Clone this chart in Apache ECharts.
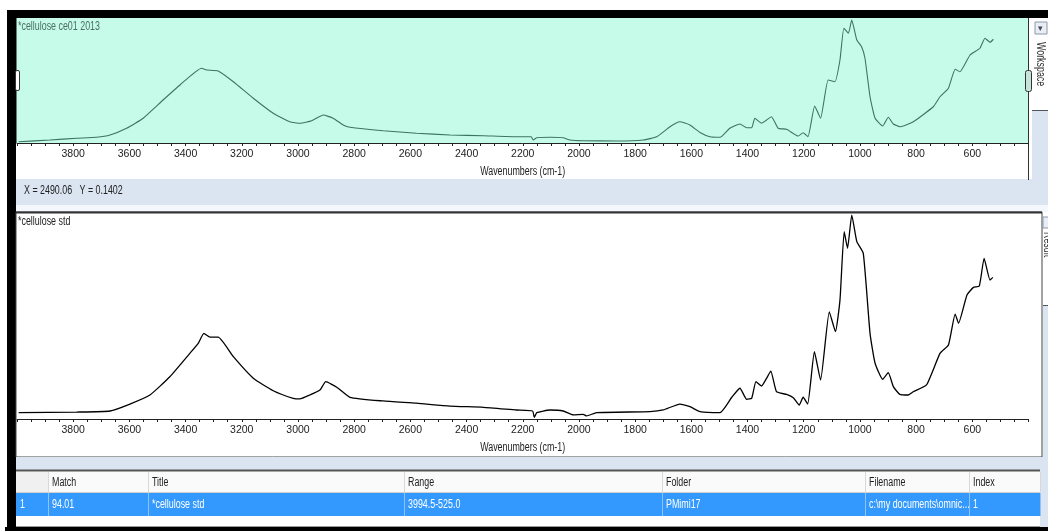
<!DOCTYPE html>
<html>
<head>
<meta charset="utf-8">
<script src="https://cdn.jsdelivr.net/npm/echarts@6/dist/echarts.min.js"></script>
<style>
  html, body { margin: 0; padding: 0; background: #fff; overflow: hidden; }
  #chart { width: 1048px; height: 531px; }
</style>
</head>
<body>
<div id="chart"></div>
<script>
// Spectral search window: sample spectrum on top, best library hit below, hit list at the bottom.
const FONT = "'Liberation Sans',Arial,sans-serif";
const NARROW = 0.74; // horizontal squeeze that gives the condensed UI lettering

const sampleTitle = '*cellulose ce01 2013';
const libraryTitle = '*cellulose std';
const cursorReadout = 'X = 2490.06   Y = 0.1402';
const axisTitle = 'Wavenumbers (cm-1)';

// Sample spectrum (normalised absorbance)
const sampleWavenumbers = [3994, 3883, 3788, 3717, 3669, 3610, 3551, 3480, 3420, 3343, 3325, 3284, 3230, 3159, 3088, 3029, 2993, 2951, 2910, 2875, 2839, 2815, 2697, 2578, 2459, 2340, 2222, 2170, 2163, 2150, 2103, 2056, 2032, 1985, 1866, 1771, 1723, 1676, 1641, 1605, 1569, 1534, 1498, 1463, 1427, 1403, 1385, 1374, 1350, 1332, 1315, 1291, 1261, 1220, 1202, 1185, 1161, 1140, 1113, 1089, 1071, 1057, 1041, 1029, 1011, 994, 982, 964, 946, 919, 899, 881, 858, 810, 739, 715, 685, 661, 644, 608, 573, 555, 537, 525];
const sampleAbsorbance = [0.010, 0.024, 0.038, 0.046, 0.064, 0.118, 0.198, 0.344, 0.464, 0.598, 0.584, 0.576, 0.490, 0.358, 0.238, 0.170, 0.158, 0.178, 0.224, 0.198, 0.144, 0.126, 0.098, 0.078, 0.064, 0.058, 0.050, 0.050, 0.024, 0.042, 0.046, 0.042, 0.024, 0.018, 0.016, 0.024, 0.050, 0.130, 0.170, 0.144, 0.084, 0.050, 0.046, 0.118, 0.152, 0.122, 0.122, 0.198, 0.158, 0.184, 0.210, 0.118, 0.110, 0.056, 0.082, 0.050, 0.296, 0.198, 0.504, 0.490, 0.664, 0.918, 0.878, 0.984, 0.824, 0.770, 0.678, 0.370, 0.198, 0.136, 0.206, 0.152, 0.130, 0.170, 0.290, 0.370, 0.438, 0.590, 0.570, 0.704, 0.758, 0.838, 0.806, 0.830];

// Library reference spectrum (normalised absorbance)
const libraryWavenumbers = [3994, 3788, 3669, 3598, 3527, 3456, 3385, 3355, 3335, 3313, 3284, 3230, 3159, 3088, 3017, 2993, 2958, 2922, 2901, 2862, 2815, 2697, 2578, 2459, 2340, 2222, 2165, 2159, 2150, 2103, 2056, 2020, 1985, 1973, 1937, 1747, 1700, 1641, 1605, 1569, 1498, 1456, 1427, 1403, 1385, 1370, 1350, 1332, 1317, 1297, 1261, 1237, 1216, 1202, 1186, 1162, 1140, 1109, 1087, 1071, 1056, 1044, 1029, 1011, 988, 964, 946, 919, 899, 881, 858, 828, 810, 763, 715, 685, 661, 649, 619, 596, 575, 558, 537, 527];
const libraryAbsorbance = [0.031, 0.034, 0.039, 0.073, 0.117, 0.206, 0.320, 0.369, 0.418, 0.399, 0.399, 0.304, 0.199, 0.138, 0.101, 0.098, 0.117, 0.141, 0.182, 0.155, 0.106, 0.088, 0.077, 0.063, 0.057, 0.044, 0.039, 0.008, 0.031, 0.044, 0.039, 0.020, 0.023, 0.015, 0.031, 0.036, 0.044, 0.073, 0.060, 0.036, 0.031, 0.106, 0.150, 0.096, 0.102, 0.182, 0.161, 0.199, 0.234, 0.133, 0.120, 0.104, 0.068, 0.106, 0.073, 0.328, 0.190, 0.523, 0.426, 0.580, 0.914, 0.833, 0.995, 0.865, 0.808, 0.418, 0.272, 0.194, 0.226, 0.158, 0.120, 0.117, 0.133, 0.166, 0.320, 0.361, 0.512, 0.467, 0.605, 0.642, 0.649, 0.784, 0.678, 0.691];

// Hit list
const hitHeaders = ['', 'Match', 'Title', 'Range', 'Folder', 'Filename', 'Index'];
const hitRow = ['1', '94.01', '*cellulose std', '3994.5-525.0', 'PMimi17', 'c:\\my documents\\omnic...', '1'];

const pairs = (xs, ys) => xs.map((x, i) => [x, ys[i]]);

function freqAxis(gridIndex) {
  return {
    type: 'value', gridIndex, min: 400, max: 4000, interval: 200, inverse: true,
    axisLine: { show: true, onZero: false, lineStyle: { color: '#222', width: 1 } },
    axisTick: { show: true, inside: false, length: 3, lineStyle: { color: '#222' } },
    minorTick: { show: true, splitNumber: 4, length: 3, lineStyle: { color: '#222' } },
    splitLine: { show: false }, minorSplitLine: { show: false },
    axisLabel: {
      showMinLabel: false, showMaxLabel: false, margin: 6,
      fontFamily: FONT, fontSize: 10.5, color: '#222',
      formatter: v => String(v)
    }
  };
}

// Window chrome and hit-list table
const LIGHT = '#dbe5f1';
const chrome = [];
const rect = (x, y, w, h, style, z) => chrome.push({ type: 'rect', shape: { x, y, width: w, height: h }, style, z: z == null ? -10 : z, silent: true });
const line = (x1, y1, x2, y2, stroke, lw, z) => chrome.push({ type: 'line', shape: { x1, y1, x2, y2 }, style: { stroke, lineWidth: lw || 1 }, z: z == null ? -5 : z, silent: true });
const text = (x, y, t, fill, opts) => {
  const o = opts || {};
  chrome.push({
    type: 'text', x, y, rotation: o.rotation || 0, scaleX: NARROW,
    style: { text: t, fill, font: (o.size || 12) + 'px ' + FONT, textAlign: o.align || 'left', textVerticalAlign: 'middle' },
    z: 20, silent: true
  });
};

// outer frame
rect(7, 10, 1041, 8, { fill: '#000' });
rect(7, 10, 9, 521, { fill: '#000' });
rect(5, 527, 1043, 4, { fill: '#000' });

// top spectrum pane
rect(16, 18, 1012, 125, { fill: '#c5fbe8' });
line(16.5, 18, 16.5, 143, '#6a7d75', 1);
rect(16, 143, 1013, 36, { fill: '#fff' });
line(1028.5, 18, 1028.5, 180, '#333', 1);
rect(1029, 18, 19, 92, { fill: '#fff' });
rect(1032, 110, 16, 70, { fill: LIGHT });
line(1032, 110.5, 1048, 110.5, '#555', 1);
rect(1035, 22, 12, 12, { fill: '#e9eef4', stroke: '#8899aa', lineWidth: 1 });
chrome.push({ type: 'text', x: 1038, y: 28.5, style: { text: '\u25BE', fill: '#445', font: '9px ' + FONT, textVerticalAlign: 'middle' }, z: 20, silent: true });
text(1040, 42, 'Workspace', '#333', { rotation: -Math.PI / 2 });

// cursor readout strip
rect(16, 179, 1032, 26, { fill: LIGHT });
rect(16, 205, 1032, 7, { fill: '#f4f7fb' });

// library spectrum pane
rect(16, 212, 1026, 245, { fill: '#fff', stroke: '#444', lineWidth: 1 });
line(16, 212.5, 1042, 212.5, '#333', 2);
rect(1043, 213, 5, 92, { fill: '#fff' });
rect(1043, 305, 5, 152, { fill: LIGHT });
line(1043, 305.5, 1048, 305.5, '#555', 1);
rect(1043, 217, 6, 11, { fill: '#e9eef4', stroke: '#8899aa', lineWidth: 1 });
text(1047, 232, 'Result', '#333', { rotation: -Math.PI / 2 });
rect(16, 457, 1032, 13, { fill: LIGHT });

// axis titles
text(522.7, 172, axisTitle, '#222', { align: 'center' });
text(522.7, 448, axisTitle, '#222', { align: 'center' });

// hit list
rect(16, 470, 1032, 57, { fill: '#fff' });
rect(1040, 470, 8, 57, { fill: LIGHT });
line(16, 470.5, 1040, 470.5, '#555', 2);
rect(16, 472, 1024, 20, { fill: '#fafafa' });
rect(16, 472, 32, 20, { fill: '#f0f0f0' });
line(16, 492.5, 1040, 492.5, '#d0d0d0', 1);
rect(16, 493, 1024, 23, { fill: '#3399ff' });
line(16, 526.5, 1040, 526.5, '#999', 1);
const colX = [16, 48, 148, 404, 662, 865, 969, 1040];
for (let c = 1; c < colX.length; c++) {
  line(colX[c] + 0.5, 472, colX[c] + 0.5, 492, '#d8d8d8', 1);
  line(colX[c] + 0.5, 493, colX[c] + 0.5, 516, '#8fc3f7', 1);
}
hitHeaders.forEach((h, c) => { if (h) text(colX[c] + 4, 482.5, h, '#222'); });
hitRow.forEach((v, c) => text(colX[c] + 4, 504.5, v, '#ffffff'));

// pane titles and readout
text(18, 27, sampleTitle, '#4a6f62');
text(18, 222, libraryTitle, '#222');
text(24, 191, cursorReadout, '#222');

// split handles
chrome.push({ type: 'rect', shape: { x: 15.5, y: 70.5, width: 4, height: 20, r: 1.5 }, style: { fill: '#fff', stroke: '#333', lineWidth: 1 }, z: 15, silent: true });
chrome.push({ type: 'rect', shape: { x: 1025.5, y: 70.5, width: 6, height: 21, r: 2 }, style: { fill: '#c8e4d8', stroke: '#333', lineWidth: 1 }, z: 15, silent: true });

const chart = echarts.init(document.getElementById('chart'), null, { renderer: 'canvas' });
chart.setOption({
  animation: false,
  backgroundColor: '#fff',
  graphic: { elements: chrome },
  grid: [
    { left: 17, top: 18, width: 1011.5, height: 125, containLabel: false },
    { left: 17, top: 214, width: 1011.5, height: 205, containLabel: false }
  ],
  xAxis: [freqAxis(0), freqAxis(1)],
  yAxis: [
    { type: 'value', gridIndex: 0, min: 0, max: 1, show: false },
    { type: 'value', gridIndex: 1, min: 0, max: 1, show: false }
  ],
  series: [
    {
      name: sampleTitle, type: 'line', xAxisIndex: 0, yAxisIndex: 0,
      data: pairs(sampleWavenumbers, sampleAbsorbance),
      showSymbol: false, smooth: 0.15, lineStyle: { color: '#3c7463', width: 1.1 }, z: 5
    },
    {
      name: libraryTitle, type: 'line', xAxisIndex: 1, yAxisIndex: 1,
      data: pairs(libraryWavenumbers, libraryAbsorbance),
      showSymbol: false, smooth: 0.15, lineStyle: { color: '#000', width: 1.3 }, z: 5
    }
  ]
});
</script>
</body>
</html>
